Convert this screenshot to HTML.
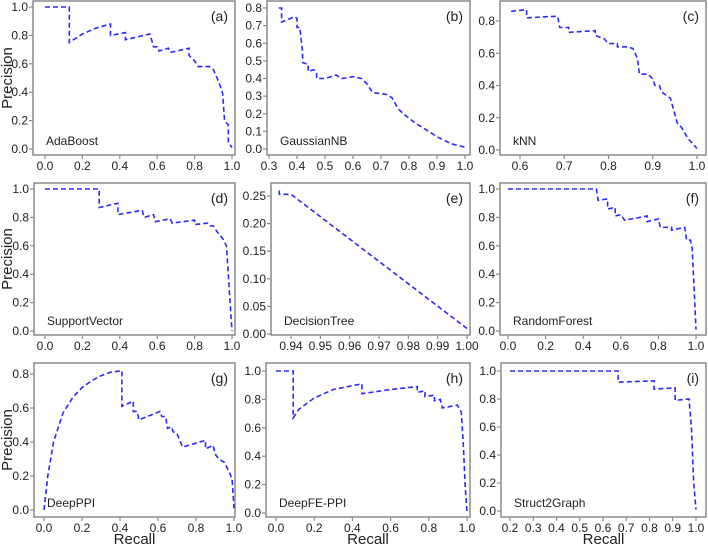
<!DOCTYPE html>
<html><head><meta charset="utf-8">
<style>
html,body{margin:0;padding:0;background:#fff;}
svg{display:block;font-family:"Liberation Sans",Arial,sans-serif;}
</style></head>
<body>
<svg id="fig" width="708" height="546" viewBox="0 0 708 546"></svg>
<script>
// ---- data (recall, precision) per classifier ----
const recallA=[0,0.13,0.13,0.2,0.27,0.35,0.35,0.43,0.43,0.56,0.57,0.58,0.6,0.61,0.66,0.67,0.77,0.77,0.8,0.82,0.88,0.9,0.93,0.95,0.96,0.98,0.98,1.0];
const precA=[1,1,0.75,0.81,0.85,0.88,0.8,0.82,0.77,0.81,0.77,0.72,0.72,0.69,0.71,0.68,0.71,0.66,0.62,0.58,0.58,0.56,0.47,0.39,0.2,0.17,0.05,0.01];
const recallB=[0.335,0.345,0.345,0.39,0.4,0.4,0.41,0.42,0.42,0.44,0.44,0.46,0.47,0.47,0.5,0.54,0.56,0.6,0.63,0.65,0.67,0.72,0.74,0.76,0.78,0.82,0.86,0.9,0.95,1.0];
const precB=[0.8,0.8,0.72,0.75,0.74,0.69,0.69,0.55,0.49,0.48,0.44,0.45,0.43,0.4,0.4,0.42,0.4,0.41,0.4,0.37,0.32,0.31,0.29,0.23,0.2,0.15,0.11,0.07,0.03,0.01];
const recallC=[0.58,0.615,0.615,0.685,0.69,0.71,0.71,0.77,0.77,0.79,0.8,0.82,0.82,0.84,0.855,0.865,0.87,0.89,0.9,0.905,0.915,0.92,0.94,0.95,0.955,0.965,0.98,1.0];
const precC=[0.86,0.87,0.82,0.83,0.76,0.76,0.73,0.74,0.71,0.69,0.66,0.66,0.64,0.64,0.63,0.57,0.47,0.47,0.44,0.4,0.4,0.36,0.32,0.22,0.17,0.14,0.07,0.01];
const recallD=[0,0.29,0.29,0.39,0.39,0.52,0.53,0.58,0.59,0.67,0.68,0.8,0.8,0.87,0.88,0.9,0.92,0.95,0.97,0.98,0.99,1.0];
const precD=[1,1,0.87,0.9,0.82,0.85,0.8,0.82,0.77,0.79,0.76,0.78,0.75,0.76,0.74,0.74,0.7,0.65,0.6,0.4,0.2,0];
const recallE=[0.936,0.936,0.94,1.0];
const precE=[0.26,0.253,0.253,0.01];
const recallF=[0,0.47,0.48,0.53,0.53,0.57,0.57,0.6,0.62,0.74,0.74,0.8,0.81,0.87,0.87,0.94,0.95,0.97,0.98,0.99,1.0];
const precF=[1,1,0.92,0.93,0.86,0.87,0.81,0.82,0.78,0.81,0.77,0.79,0.73,0.73,0.71,0.73,0.64,0.64,0.58,0.3,0.01];
const recallG=[0,0.02,0.05,0.1,0.15,0.2,0.25,0.3,0.35,0.41,0.41,0.47,0.47,0.49,0.5,0.61,0.62,0.64,0.65,0.67,0.68,0.7,0.71,0.73,0.85,0.85,0.89,0.9,0.92,0.95,0.98,0.99,1.0];
const precG=[0,0.2,0.4,0.57,0.66,0.72,0.76,0.79,0.81,0.82,0.61,0.64,0.58,0.58,0.53,0.58,0.55,0.55,0.48,0.49,0.46,0.45,0.42,0.37,0.41,0.36,0.38,0.33,0.3,0.28,0.21,0.18,0.01];
const recallH=[0,0.09,0.09,0.12,0.2,0.3,0.45,0.45,0.6,0.74,0.74,0.78,0.78,0.83,0.83,0.86,0.87,0.95,0.97,0.98,0.99,1.0];
const precH=[1,1,0.67,0.73,0.81,0.87,0.91,0.84,0.87,0.89,0.85,0.86,0.82,0.83,0.79,0.8,0.74,0.76,0.71,0.5,0.2,0];
const recallI=[0.2,0.665,0.665,0.82,0.82,0.91,0.91,0.97,0.98,0.99,1.0];
const precI=[1,1,0.92,0.93,0.87,0.88,0.79,0.8,0.6,0.2,0.01];

const xTicksA=["0.0","0.2","0.4","0.6","0.8","1.0"];
const xTicksB=["0.3","0.4","0.5","0.6","0.7","0.8","0.9","1.0"];
const xTicksC=["0.6","0.7","0.8","0.9","1.0"];
const xTicksE=["0.94","0.95","0.96","0.97","0.98","0.99","1.00"];
const xTicksI=["0.2","0.3","0.4","0.5","0.6","0.7","0.8","0.9","1.0"];
const yTicks01=["0.0","0.2","0.4","0.6","0.8","1.0"];
const yTicks08=["0.0","0.2","0.4","0.6","0.8"];
const yTicksB=["0.0","0.1","0.2","0.3","0.4","0.5","0.6","0.7","0.8"];
const yTicksE=["0.00","0.05","0.10","0.15","0.20","0.25"];

// ---- layout (pixels) ----
const panels=[
 {id:'a',name:'AdaBoost',rx:recallA,py:precA,xt:xTicksA,yt:yTicks01,box:[33,1,235,155],xd:[0,1],xp:[45,232],yd:[0,1],yp:[149,7],showY:true},
 {id:'b',name:'GaussianNB',rx:recallB,py:precB,xt:xTicksB,yt:yTicksB,box:[267,1,470,155],xd:[0.3,1],xp:[269,465],yd:[0,0.8],yp:[149,8]},
 {id:'c',name:'kNN',rx:recallC,py:precC,xt:xTicksC,yt:yTicks08,box:[500,1,706,155],xd:[0.6,1],xp:[520,697],yd:[0,0.8],yp:[150,21]},
 {id:'d',name:'SupportVector',rx:recallD,py:precD,xt:xTicksA,yt:yTicks01,box:[34,183,235,335],xd:[0,1],xp:[45,232],yd:[0,1],yp:[331,189],showY:true},
 {id:'e',name:'DecisionTree',rx:recallE,py:precE,xt:xTicksE,yt:yTicksE,box:[271,183,470,335],xd:[0.94,1],xp:[291,467],yd:[0,0.25],yp:[334,196]},
 {id:'f',name:'RandomForest',rx:recallF,py:precF,xt:xTicksA,yt:yTicks01,box:[500,183,706,335],xd:[0,1],xp:[508,696],yd:[0,1],yp:[331,189]},
 {id:'g',name:'DeepPPI',rx:recallG,py:precG,xt:xTicksA,yt:yTicks08,box:[34,363,235,517],xd:[0,1],xp:[44,234],yd:[0,0.8],yp:[510,374],showY:true,showX:true},
 {id:'h',name:'DeepFE-PPI',rx:recallH,py:precH,xt:xTicksA,yt:yTicks01,box:[266,363,470,517],xd:[0,1],xp:[276,467],yd:[0,1],yp:[513,371],showX:true},
 {id:'i',name:'Struct2Graph',rx:recallI,py:precI,xt:xTicksI,yt:yTicks01,box:[501,363,706,517],xd:[0.2,1],xp:[510,696],yd:[0,1],yp:[511,371],showX:true}
];
const NS='http://www.w3.org/2000/svg';
const svg=document.getElementById('fig');
function mk(tag,attrs,parent){const e=document.createElementNS(NS,tag);for(const k in attrs)e.setAttribute(k,attrs[k]);(parent||svg).appendChild(e);return e;}
panels.forEach(p=>{
  const g=mk('g',{});
  
  
  const sx=v=>p.xp[0]+(v-p.xd[0])/(p.xd[1]-p.xd[0])*(p.xp[1]-p.xp[0]);
  const sy=v=>p.yp[0]+(v-p.yd[0])/(p.yd[1]-p.yd[0])*(p.yp[1]-p.yp[0]);
  const [l,t,r,b]=p.box;
  const frame=mk('rect',{x:l,y:t,width:r-l,height:b-t,fill:'none',stroke:'#8a8a8a','stroke-width':1.5},g);
  
  
  p.xt.forEach(s=>{const x=sx(parseFloat(s));
    mk('line',{x1:x,x2:x,y1:b,y2:b+4,stroke:'#8a8a8a','stroke-width':1.2},g);
    const tx=mk('text',{x:x,y:b+15,'font-size':12,'text-anchor':'middle',fill:'#222'},g);
    tx.textContent=s;
    
    
  });
  p.yt.forEach(s=>{const y=sy(parseFloat(s));
    mk('line',{x1:l-4,x2:l,y1:y,y2:y,stroke:'#8a8a8a','stroke-width':1.2},g);
    const tx=mk('text',{x:l-5,y:y+4,'font-size':12,'text-anchor':'end',fill:'#222'},g);
    tx.textContent=s;
    
    
  });
  const pts=p.rx.map((v,i)=>sx(v).toFixed(1)+','+sy(p.py[i]).toFixed(1)).join(' ');
  const line=mk('polyline',{points:pts,fill:'none',stroke:'#2a2aff','stroke-width':1.6,'stroke-dasharray':'5,3'},g);
  
  
  const nm=mk('text',{x:l+13,y:b-10,'font-size':12,fill:'#222'},g);
  nm.textContent=p.name;
  
  
  const lt=mk('text',{x:r-7,y:t+20,'font-size':14,'text-anchor':'end',fill:'#222'},g);
  lt.textContent='('+p.id+')';
  
  
  if(p.showY){
    const cy=(t+b)/2;
    const yl=mk('text',{x:0,y:0,'font-size':15,'text-anchor':'middle',fill:'#222',transform:'translate(12,'+cy+') rotate(-90)'},g);
    yl.textContent='Precision';
    
    
  }
  if(p.showX){
    const xl=mk('text',{x:(l+r)/2,y:544,'font-size':15,'text-anchor':'middle',fill:'#222'},g);
    xl.textContent='Recall';
    
    
  }
});
</script>
</body></html>
